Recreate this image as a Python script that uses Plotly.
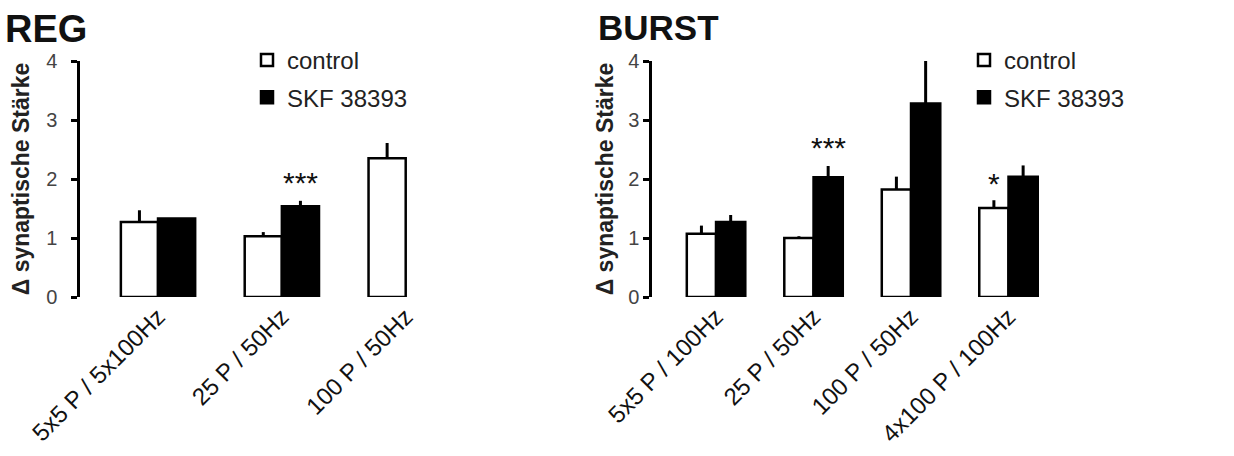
import plotly.graph_objects as go

# ---- data ----
reg_categories = ["5x5 P / 5x100Hz", "25 P / 50Hz", "100 P / 50Hz"]
reg_control = [1.27, 1.03, 2.35]
reg_control_err = [0.20, 0.07, 0.26]
reg_skf = [1.33, 1.54, None]
reg_skf_err = [0.0, 0.09, 0.0]

burst_categories = ["5x5 P / 100Hz", "25 P / 50Hz", "100 P / 50Hz", "4x100 P / 100Hz"]
burst_control = [1.07, 1.00, 1.82, 1.51]
burst_control_err = [0.14, 0.03, 0.22, 0.13]
burst_skf = [1.27, 2.03, 3.28, 2.04]
burst_skf_err = [0.12, 0.19, 0.72, 0.19]

y_ticks = [0, 1, 2, 3, 4]
series_names = ["control", "SKF 38393"]
y_title = "Δ synaptische Stärke"

FONT = "Liberation Sans, Arial, sans-serif"
W, H = 1234, 456

fig = go.Figure()

def add_bars(cats, vals, errs, name, fill, xa, ya, legend):
    fig.add_trace(go.Bar(
        x=cats, y=vals, name=name, xaxis=xa, yaxis=ya, legend=legend,
        showlegend=True, legendgroup=legend + name,
        marker=dict(color=fill, line=dict(color="black", width=2.5)),
        error_y=dict(type="data", array=errs, arrayminus=[0] * len(errs),
                     symmetric=False, width=0, thickness=3, color="black"),
    ))

add_bars(reg_categories, reg_control, reg_control_err, series_names[0], "white", "x", "y", "legend")
add_bars(reg_categories, reg_skf, reg_skf_err, series_names[1], "black", "x", "y", "legend")
add_bars(burst_categories, burst_control, burst_control_err, series_names[0], "white", "x2", "y2", "legend2")
add_bars(burst_categories, burst_skf, burst_skf_err, series_names[1], "black", "x2", "y2", "legend2")

ydom = [(H - 297) / H, (H - 61) / H]
yaxis_common = dict(
    range=[0, 4], tickvals=y_ticks, showline=True, linecolor="black", linewidth=2.5,
    ticks="outside", ticklen=6, tickwidth=2.5, tickcolor="black",
    tickfont=dict(family=FONT, size=20, color="#444"),
    showgrid=False, zeroline=False, domain=ydom, automargin=False,
)
xaxis_common = dict(
    showline=False, showgrid=False, zeroline=False, ticks="", tickangle=-45,
    tickfont=dict(family=FONT, size=24, color="#111"), type="category", automargin=False,
)
title_font = dict(family=FONT, size=23, color="#222", weight="bold")

fig.update_layout(
    width=W, height=H, margin=dict(l=0, r=0, t=0, b=0),
    paper_bgcolor="white", plot_bgcolor="white",
    barmode="group", bargap=0.4, bargroupgap=0,
    xaxis=dict(xaxis_common, domain=[80 / W, 480 / W], range=[-0.63, 2.6], anchor="y"),
    yaxis=dict(yaxis_common, anchor="x", ticklabelstandoff=10,
               title=dict(text=y_title, font=title_font, standoff=11)),
    xaxis2=dict(xaxis_common, domain=[652 / W, 1067 / W], range=[-0.657, 3.6], anchor="y2"),
    yaxis2=dict(yaxis_common, anchor="x2", ticklabelstandoff=0,
                title=dict(text=y_title, font=title_font, standoff=9)),
    legend=dict(x=247 / W, y=1 - 38 / H, xanchor="left", yanchor="top",
                font=dict(family=FONT, size=24, color="#222"), tracegroupgap=3,
                bgcolor="rgba(0,0,0,0)"),
    legend2=dict(x=964 / W, y=1 - 38 / H, xanchor="left", yanchor="top",
                 font=dict(family=FONT, size=24, color="#222"), tracegroupgap=3,
                 bgcolor="rgba(0,0,0,0)"),
    showlegend=True,
)

# panel titles
fig.add_annotation(text="<b>REG</b>", x=3 / W, y=1 - 6 / H, xref="paper", yref="paper",
                   xanchor="left", yanchor="top", showarrow=False,
                   font=dict(family=FONT, size=38, color="#111"))
fig.add_annotation(text="<b>BURST</b>", x=596 / W, y=1 - 6 / H, xref="paper", yref="paper",
                   xanchor="left", yanchor="top", showarrow=False,
                   font=dict(family=FONT, size=35, color="#111"))

# significance stars
half = 0.15
star_font = dict(family=FONT, size=30, color="#111")
fig.add_annotation(text="***", x=1 + half, y=reg_skf[1] + reg_skf_err[1], xref="x", yref="y",
                   yanchor="bottom", showarrow=False, yshift=0, font=star_font)
fig.add_annotation(text="***", x=1 + half, y=burst_skf[1] + burst_skf_err[1], xref="x2", yref="y2",
                   yanchor="bottom", showarrow=False, yshift=0, font=star_font)
fig.add_annotation(text="*", x=3 - half, y=burst_control[3] + burst_control_err[3], xref="x2", yref="y2",
                   yanchor="bottom", showarrow=False, yshift=-2, font=star_font)

fig.write_html("out.html")
